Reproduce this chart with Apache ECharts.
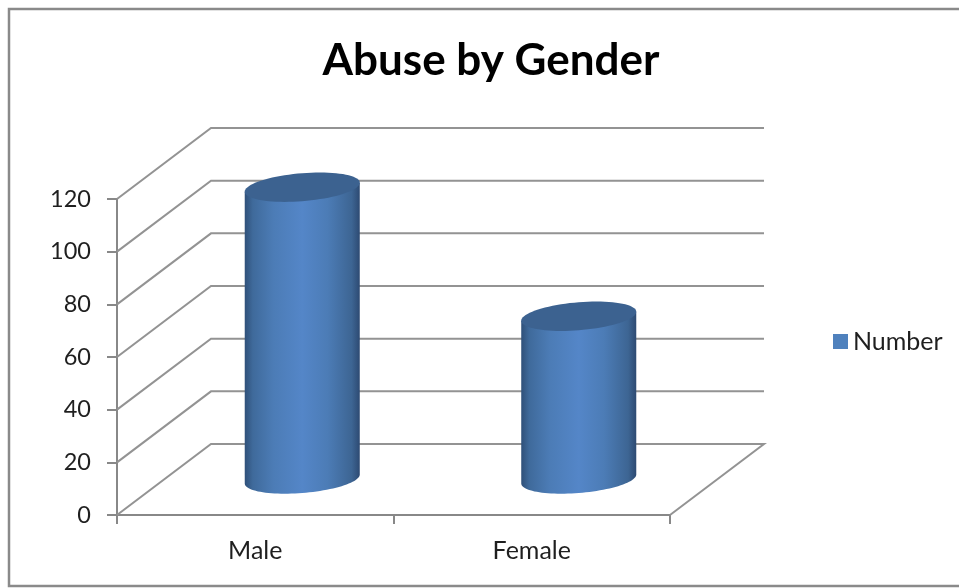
<!DOCTYPE html>
<html>
<head>
<meta charset="utf-8">
<style>html,body{margin:0;padding:0;background:#fff}#c{width:959px;height:588px}</style>
<script src="https://cdn.jsdelivr.net/npm/echarts@6/dist/echarts.min.js"></script>
</head>
<body>
<div id="c"></div>
<script>
const chartTitle = 'Abuse by Gender';
const seriesName = 'Number';
const categories = ['Male', 'Female'];
const values = [111, 62];
const yTicks = [0, 20, 40, 60, 80, 100, 120];

const DEPTH_X = 94, DEPTH_Y = 71;
const WALL = '#939393', AXIS = '#888888', TEXT = '#1f1f1f';
const FONT = 'Lato, "Open Sans", sans-serif';

const chart = echarts.init(document.getElementById('c'), null, {renderer: 'canvas'});

function arc(cx, cy, a, b, s, from, to, n) {
  const pts = [];
  for (let i = 0; i <= n; i++) {
    const t = from + (to - from) * i / n;
    pts.push([cx + a * Math.cos(t), cy + b * Math.sin(t) - s * Math.cos(t)]);
  }
  return pts;
}

function renderWalls(params, api) {
  const v = api.value(0);
  const nCat = categories.length;
  const front = api.coord([0, v]);
  const size = api.size([1, 0])[0];
  const x0 = front[0] - size / 2;
  const x1 = x0 + size * nCat;
  const y = front[1];
  const pts = [[x0, y], [x0 + DEPTH_X, y - DEPTH_Y], [x1 + DEPTH_X, y - DEPTH_Y]];
  if (v === 0) pts.push([x1, y]);
  return {
    type: 'polyline', silent: true,
    shape: {points: pts},
    style: {stroke: WALL, lineWidth: 2, fill: null}
  };
}

function renderCylinder(params, api) {
  const i = api.value(0);
  const topPt = api.coord([i, api.value(1)]);
  const basePt = api.coord([i, 0]);
  const a = api.size([1, 0])[0] * 0.208;
  const b = 14, s = 4.5;
  const cx = topPt[0] + DEPTH_X / 2;
  const cyT = topPt[1] - DEPTH_Y / 2;
  const cyB = basePt[1] - DEPTH_Y / 2 - 0.5;
  const body = [[cx - a, cyT + s], [cx + a, cyT - s]].concat(arc(cx, cyB, a, b, s, 0, Math.PI, 50));
  return {
    type: 'group', silent: true,
    children: [
      {
        type: 'polygon', shape: {points: body},
        style: {
          fill: new echarts.graphic.LinearGradient(0, 0, 1, 0, [
            {offset: 0, color: '#2f5079'},
            {offset: 0.07, color: '#3f6a9b'},
            {offset: 0.25, color: '#4c7cb6'},
            {offset: 0.5, color: '#5486c8'},
            {offset: 0.72, color: '#4c7cb6'},
            {offset: 0.93, color: '#3d6593'},
            {offset: 1, color: '#2d4a72'}
          ])
        }
      },
      {
        type: 'polygon', shape: {points: arc(cx, cyT, a, b, s, 0, Math.PI * 2, 80)},
        style: {fill: '#3c6290'}
      }
    ]
  };
}

chart.setOption({
  animation: false,
  backgroundColor: '#fff',
  title: {
    text: chartTitle, left: 486, top: 34, textAlign: 'center',
    textStyle: {fontFamily: FONT, fontSize: 44, fontWeight: 'bold', color: '#000'}
  },
  legend: {
    left: 828, top: 324, data: [seriesName], icon: 'rect',
    itemWidth: 15, itemHeight: 15, itemGap: 6,
    textStyle: {fontFamily: FONT, fontSize: 25, color: TEXT},
    selectedMode: false
  },
  grid: {left: 117, right: 289, top: 199, bottom: 73},
  xAxis: {
    type: 'category', data: categories,
    axisLine: {lineStyle: {color: AXIS, width: 2}},
    axisTick: {show: true, alignWithLabel: false, length: 9, lineStyle: {color: AXIS, width: 2}},
    axisLabel: {fontFamily: FONT, fontSize: 25, color: TEXT, margin: 23},
    splitLine: {show: false}
  },
  yAxis: {
    type: 'value', min: 0, max: 120, interval: 20,
    axisLine: {show: true, lineStyle: {color: AXIS, width: 2}},
    axisTick: {show: true, length: 10, lineStyle: {color: AXIS, width: 2}},
    axisLabel: {fontFamily: FONT, fontSize: 23.5, color: TEXT, margin: 26},
    splitLine: {show: false}
  },
  graphic: [{
    type: 'rect', silent: true, z: -1,
    shape: {x: 9, y: 9, width: 1000, height: 577},
    style: {fill: null, stroke: '#8a8a8a', lineWidth: 2.5}
  }],
  series: [
    {
      name: 'walls', type: 'custom', z: 1, silent: true,
      coordinateSystem: 'cartesian2d',
      data: yTicks.map(v => [v]),
      encode: {y: 0},
      clip: false,
      renderItem: renderWalls
    },
    {
      name: seriesName, type: 'custom', z: 3,
      coordinateSystem: 'cartesian2d',
      itemStyle: {color: '#4f81bd'},
      data: categories.map((c, i) => [i, values[i]]),
      encode: {x: 0, y: 1},
      clip: false,
      renderItem: renderCylinder
    }
  ]
});
</script>
</body>
</html>
